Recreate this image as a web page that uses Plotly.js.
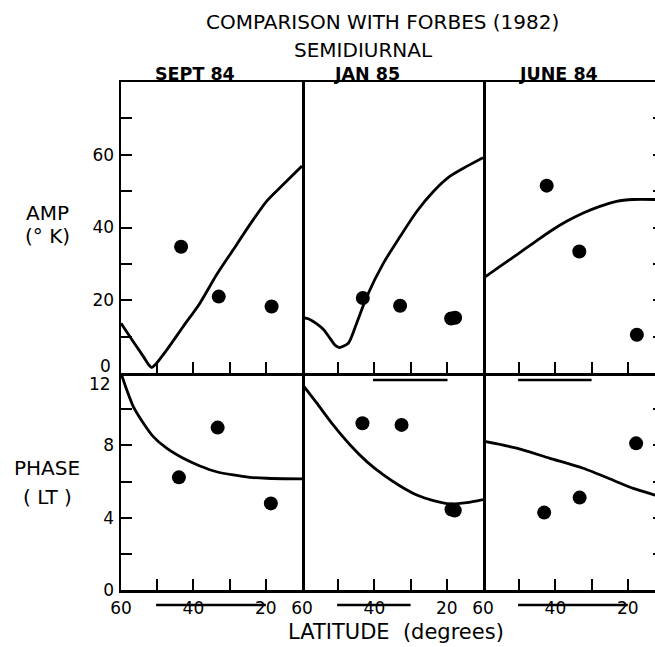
<!DOCTYPE html>
<html>
<head>
<meta charset="utf-8">
<script src="https://cdn.plot.ly/plotly-3.0.1.min.js"></script>
<style>
html,body{margin:0;padding:0;overflow:hidden;background:#fff;width:655px;height:647px;}
#chart{width:670px;height:647px;}
</style>
</head>
<body>
<div id="chart"></div>
<script>
// ---- data ----
const panelNames = ["SEPT 84", "JAN 85", "JUNE 84"];

// Model curves (Forbes 1982): latitude (deg) vs amplitude (K)
const ampCurveLatSep = [60, 56.6, 53.8, 52.3, 51.5, 50.6, 47.4, 42.8, 38.2, 33.6, 29.0, 24.4, 19.8, 15.2, 10];
const ampCurveSep    = [13.7, 8.6, 4.5, 2.2, 1.5, 2.2, 6.3, 12.8, 19.2, 27.0, 33.9, 40.8, 47.2, 51.8, 56.9];
const ampCurveLatJan = [60, 58, 55.9, 54, 52.3, 50.8, 49.7, 47.2, 44.9, 42.1, 37.5, 32.9, 28.3, 23.7, 19.1, 14.5, 10];
const ampCurveJan    = [15.3, 14.8, 13.5, 11.9, 9.6, 7.6, 7.0, 8.2, 13.7, 21.0, 30.2, 37.5, 44.4, 49.9, 54.1, 56.8, 59.2];
const ampCurveLatJun = [60, 55.3, 50.7, 46.1, 41.5, 36.9, 32.3, 27.7, 23.1, 18.5, 12.5, 10];
const ampCurveJun    = [26.0, 29.3, 32.5, 35.7, 38.9, 41.7, 44.0, 45.8, 47.2, 47.7, 47.7, 47.6];

// Model curves: latitude vs phase (LT)
const phCurveLatSep = [60, 58.4, 56.6, 53.8, 51.1, 47.4, 42.8, 38.2, 33.6, 29.0, 24.4, 19.8, 10];
const phCurveSep    = [12.0, 11.06, 10.14, 9.22, 8.48, 7.84, 7.28, 6.86, 6.54, 6.36, 6.23, 6.18, 6.14];
const phCurveLatJan = [60, 55.9, 51.4, 46.7, 42.1, 37.5, 32.9, 28.3, 23.7, 19.1, 14.5, 10];
const phCurveJan    = [11.4, 10.33, 9.13, 8.02, 7.10, 6.36, 5.75, 5.25, 4.94, 4.76, 4.83, 5.0];
const phCurveLatJun = [60, 50.7, 41.5, 32.3, 23.1, 18.5, 12.5, 10];
const phCurveJun    = [8.23, 7.84, 7.28, 6.73, 5.99, 5.62, 5.25, 5.1];

// Observations
const obsAmpLatSep = [43.4, 33.0, 18.4];        const obsAmpSep = [34.7, 21.0, 18.3];
const obsAmpLatJan = [43.2, 32.9, 18.8, 17.7];  const obsAmpJan = [20.6, 18.5, 15.0, 15.2];
const obsAmpLatJun = [42.4, 33.4, 17.5];        const obsAmpJun = [51.5, 33.4, 10.5];
const obsPhLatSep  = [44.0, 33.3, 18.6];        const obsPhSep  = [6.23, 8.98, 4.79];
const obsPhLatJan  = [43.3, 32.5, 18.7, 17.8];  const obsPhJan  = [9.22, 9.13, 4.45, 4.4];
const obsPhLatJun  = [43.1, 33.3, 17.7];        const obsPhJun  = [4.28, 5.11, 8.11];

// latitude coverage bars (deg) drawn below the axis and inside the phase panels
const coverBottom = [[50.3, 20], [50.3, 30], [50.3, 20]];
const coverTop    = [null, [40.4, 19.8], [50.3, 30]];

// ticks
const latTickVals = [60, 50, 40, 30, 20];
const latTickText = ["60", "", "40", "", "20"];
const ampTickVals = [0, 10, 20, 30, 40, 50, 60, 70];
const ampTickText = ["", "", "20", "", "40", "", "60", ""];
const phTickVals  = [0, 2, 4, 6, 8, 10, 12];
const phTickText  = ["0", "", "4", "", "8", "", ""];

// ---- layout geometry ----
const W = 670, H = 647;
const px = (a, b) => [a / W, b / W];
const py = (top, bot) => [1 - bot / H, 1 - top / H];
const xDom = [px(121, 302), px(302, 483), px(483, 664)];
const ampDom = py(82, 373);
const phDom  = py(373, 590);
const FONT = "DejaVu Sans, sans-serif";

const lineStyle = {color: "black", width: 2.8, shape: "spline", smoothing: 0.7};
const markStyle = {color: "black", size: 14};

function curve(x, y, ax) {
  return {x: x, y: y, xaxis: "x" + ax, yaxis: "y" + ax, mode: "lines", line: lineStyle,
          hoverinfo: "skip", showlegend: false};
}
function pts(x, y, ax) {
  return {x: x, y: y, xaxis: "x" + ax, yaxis: "y" + ax, mode: "markers", marker: markStyle,
          cliponaxis: false, hoverinfo: "skip", showlegend: false};
}

const data = [
  curve(ampCurveLatSep, ampCurveSep, ""), pts(obsAmpLatSep, obsAmpSep, ""),
  curve(ampCurveLatJan, ampCurveJan, "2"), pts(obsAmpLatJan, obsAmpJan, "2"),
  curve(ampCurveLatJun, ampCurveJun, "3"), pts(obsAmpLatJun, obsAmpJun, "3"),
  curve(phCurveLatSep, phCurveSep, "4"), pts(obsPhLatSep, obsPhSep, "4"),
  curve(phCurveLatJan, phCurveJan, "5"), pts(obsPhLatJan, obsPhJan, "5"),
  curve(phCurveLatJun, phCurveJun, "6"), pts(obsPhLatJun, obsPhJun, "6"),
];

const axisBase = {
  showline: true, linecolor: "black", linewidth: 2.5,
  showgrid: false, zeroline: false, fixedrange: true,
  tickcolor: "black", tickwidth: 2, ticklen: 11,
  tickfont: {family: FONT, size: 17, color: "black"}
};

const layout = {
  width: W, height: H,
  margin: {l: 0, r: 0, t: 0, b: 0},
  paper_bgcolor: "white", plot_bgcolor: "white",
  showlegend: false,
  shapes: [],
  annotations: []
};

for (let i = 0; i < 3; i++) {
  const topIdx = i === 0 ? "" : String(i + 1);
  const botIdx = String(i + 4);
  layout["xaxis" + topIdx] = Object.assign({}, axisBase, {
    domain: xDom[i], range: [60, 10], anchor: "y" + topIdx, mirror: true,
    ticks: "inside", tickvals: latTickVals, showticklabels: false
  });
  layout["xaxis" + botIdx] = Object.assign({}, axisBase, {
    domain: xDom[i], range: [60, 10], anchor: "y" + botIdx, mirror: false,
    ticks: "inside", tickvals: latTickVals, ticktext: latTickText,
    showticklabels: true, ticklabelstandoff: 1
  });
  const ampAx = Object.assign({}, axisBase, {
    domain: ampDom, range: [0, 80], anchor: "x" + topIdx,
    tickvals: ampTickVals, ticktext: ampTickText
  });
  const phAx = Object.assign({}, axisBase, {
    domain: phDom, range: [0, 12], anchor: "x" + botIdx,
    tickvals: phTickVals, ticktext: phTickText
  });
  if (i === 0) {
    Object.assign(ampAx, {mirror: true, ticks: "inside", showticklabels: true, ticklabelstandoff: 1});
    Object.assign(phAx,  {mirror: true, ticks: "inside", showticklabels: true, ticklabelstandoff: 1});
  } else if (i === 1) {
    Object.assign(ampAx, {side: "right", mirror: false, ticks: "", showticklabels: false});
    Object.assign(phAx,  {side: "right", mirror: false, ticks: "", showticklabels: false});
  } else {
    Object.assign(ampAx, {side: "right", mirror: false, ticks: "inside", showticklabels: false});
    Object.assign(phAx,  {side: "right", mirror: false, ticks: "inside", showticklabels: false});
  }
  layout["yaxis" + topIdx] = ampAx;
  layout["yaxis" + botIdx] = phAx;

  const cb = coverBottom[i];
  layout.shapes.push({type: "line", xref: "x" + botIdx, yref: "paper",
    x0: cb[0], x1: cb[1], y0: 1 - 605 / H, y1: 1 - 605 / H,
    line: {color: "black", width: 2.5}});
  const ct = coverTop[i];
  if (ct) {
    layout.shapes.push({type: "line", xref: "x" + botIdx, yref: "paper",
      x0: ct[0], x1: ct[1], y0: 1 - 380 / H, y1: 1 - 380 / H,
      line: {color: "black", width: 2.5}});
  }
}

const txt = (text, x, y, size, extra) => Object.assign({
  text: text, xref: "paper", yref: "paper", x: x / W, y: 1 - y / H,
  xanchor: "center", yanchor: "middle", showarrow: false,
  font: {family: FONT, size: size, color: "black"}
}, extra || {});
const boldFont = {family: FONT, size: 17.5, color: "black", weight: "bold"};

layout.annotations.push(
  txt("COMPARISON WITH FORBES (1982)", 382, 22, 20),
  txt("SEMIDIURNAL", 364, 50, 20),
  txt(panelNames[0], 195, 74, 17.5, {font: boldFont}),
  txt(panelNames[1], 367, 74, 17.5, {font: boldFont}),
  txt(panelNames[2], 558, 74, 17.5, {font: boldFont}),
  txt("AMP", 47, 213, 20),
  txt("(° K)", 47, 236, 20),
  txt("PHASE", 47, 468, 20),
  txt("( LT )", 47, 497, 20),
  txt("LATITUDE  (degrees)", 396, 632, 21),
  {text: String(ampTickVals[0]), xref: "paper", yref: "y", x: 113 / W, y: ampTickVals[0],
   xanchor: "right", yanchor: "middle", yshift: 7, showarrow: false,
   font: {family: FONT, size: 17, color: "black"}},
  {text: String(phTickVals[phTickVals.length - 1]), xref: "paper", yref: "y4", x: 113 / W,
   y: phTickVals[phTickVals.length - 1], xanchor: "right", yanchor: "middle", yshift: -11,
   showarrow: false, font: {family: FONT, size: 17, color: "black"}}
);

Plotly.newPlot("chart", data, layout, {staticPlot: true, displayModeBar: false});
</script>
</body>
</html>
